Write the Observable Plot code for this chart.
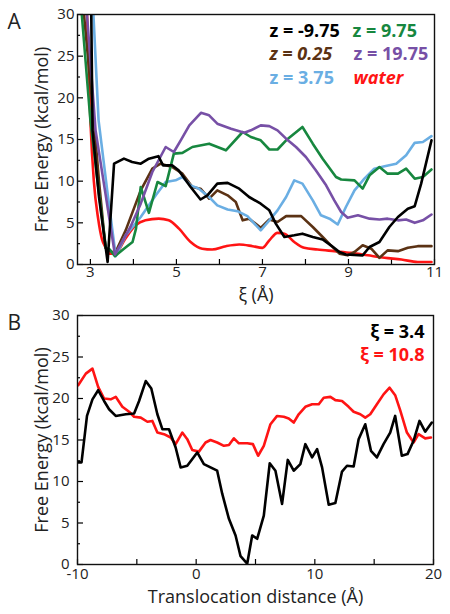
<!DOCTYPE html>
<html><head><meta charset="utf-8">
<script src="https://cdn.jsdelivr.net/npm/d3@7"></script>
<script src="https://cdn.jsdelivr.net/npm/@observablehq/plot@0.6"></script>
<style>
body{margin:0;background:#fff}
#chart{position:relative;width:450px;height:614px}
#chart svg{display:block;position:absolute;left:0}
</style>
</head><body><div id="chart"></div>
<script>
// ---------- Panel A data: free energy vs xi for several z ----------
const seriesA = ["z = -9.75", "z = 9.75", "z = 0.25", "z = 19.75", "z = 3.75", "water"];
const colorsA = ["#000000", "#17873f", "#5b3214", "#7750a6", "#6aaee3", "#ff1414"];

const xiBlack = [3.02, 3.05, 3.20, 3.40, 3.55, 3.78, 3.97, 4.17, 4.36, 4.58, 4.69, 4.90, 5.05, 5.33, 5.56, 5.72, 5.95, 6.19, 6.46, 6.69, 6.96, 7.16, 7.31, 7.51, 7.74, 7.93, 8.17, 8.40, 8.59, 8.79, 8.94, 9.33, 9.49, 9.72, 9.95, 10.15, 10.38, 10.54, 10.69, 10.93];
const feBlack = [30, 16.1, 8.1, 0.3, 12.1, 12.7, 12.3, 12.1, 12.7, 13.0, 11.9, 11.9, 11.3, 9.3, 7.8, 8.3, 9.7, 9.8, 9.1, 8.1, 7.3, 6.5, 4.9, 3.3, 3.5, 3.7, 3.3, 3.0, 2.3, 1.5, 1.2, 1.1, 2.1, 2.7, 4.5, 5.7, 6.7, 7.0, 9.7, 14.9];

const xiGreen = [2.80, 3.00, 3.20, 3.36, 3.45, 3.57, 3.78, 3.98, 4.06, 4.17, 4.36, 4.56, 4.75, 4.94, 5.14, 5.37, 5.76, 6.15, 6.54, 6.73, 6.96, 7.16, 7.35, 7.55, 7.93, 8.17, 8.40, 8.71, 8.83, 9.14, 9.33, 9.49, 9.72, 9.91, 10.15, 10.34, 10.54, 10.73, 10.93];
const feGreen = [30, 17.3, 8.5, 2.0, 1.8, 1.0, 1.9, 2.7, 4.3, 9.3, 6.2, 9.9, 9.4, 13.3, 13.4, 14.1, 14.5, 13.7, 15.9, 15.3, 14.9, 13.8, 13.8, 14.9, 16.5, 14.5, 12.7, 10.5, 10.2, 10.1, 9.1, 10.7, 11.7, 10.9, 10.9, 11.5, 10.3, 10.5, 11.4];

const xiBrown = [2.85, 3.08, 3.20, 3.35, 3.47, 3.57, 3.82, 4.17, 4.44, 4.63, 4.90, 5.14, 5.37, 5.56, 5.76, 5.95, 6.19, 6.38, 6.54, 6.69, 6.96, 7.16, 7.35, 7.55, 7.90, 8.17, 8.40, 8.59, 8.79, 8.98, 9.14, 9.33, 9.53, 9.72, 9.91, 10.15, 10.38, 10.61, 10.93];
const feBrown = [30, 17.3, 10.0, 2.0, 1.6, 1.3, 4.1, 8.9, 11.5, 12.1, 11.7, 10.9, 9.3, 9.1, 7.9, 8.9, 8.3, 7.5, 5.3, 5.5, 4.4, 5.4, 5.1, 5.8, 5.8, 4.5, 3.3, 2.3, 1.3, 1.1, 1.5, 2.3, 1.9, 0.8, 1.7, 1.6, 2.0, 2.2, 2.2];

const xiPurple = [2.92, 3.12, 3.35, 3.57, 3.93, 4.17, 4.44, 4.75, 4.94, 5.10, 5.30, 5.57, 5.76, 5.95, 6.27, 6.58, 6.73, 6.96, 7.16, 7.35, 7.55, 7.78, 8.01, 8.24, 8.48, 8.67, 8.83, 8.98, 9.22, 9.49, 9.72, 9.91, 10.15, 10.34, 10.54, 10.73, 10.93];
const fePurple = [30, 16.1, 8.5, 1.2, 4.5, 7.3, 11.1, 14.1, 13.5, 14.9, 16.7, 18.2, 17.9, 16.9, 16.3, 15.8, 16.1, 16.7, 16.6, 16.1, 15.1, 14.1, 12.9, 11.3, 9.5, 7.7, 6.3, 5.6, 5.9, 5.5, 5.4, 5.5, 5.3, 5.4, 5.0, 5.3, 6.0];

const xiBlue = [3.07, 3.19, 3.40, 3.59, 3.82, 4.17, 4.52, 4.75, 4.98, 5.14, 5.33, 5.52, 5.76, 5.95, 6.19, 6.42, 6.65, 6.96, 7.16, 7.35, 7.55, 7.74, 7.93, 8.17, 8.36, 8.56, 8.75, 8.94, 9.14, 9.37, 9.60, 9.84, 10.11, 10.34, 10.54, 10.73, 10.93];
const feBlue = [30, 17.3, 8.5, 1.0, 3.5, 5.7, 8.3, 9.9, 10.1, 10.5, 9.5, 9.1, 8.1, 7.1, 6.6, 6.4, 5.8, 4.1, 5.3, 6.5, 8.1, 10.1, 9.7, 7.7, 5.9, 5.5, 4.8, 6.9, 8.9, 10.3, 11.5, 11.8, 12.1, 13.1, 14.6, 14.7, 15.4];

const xiWater = [2.92, 3.00, 3.08, 3.18, 3.27, 3.36, 3.44, 3.58, 3.80, 4.05, 4.28, 4.59, 4.82, 5.06, 5.33, 5.60, 5.83, 6.15, 6.46, 6.77, 7.00, 7.16, 7.35, 7.51, 7.74, 7.97, 8.28, 8.67, 9.06, 9.45, 9.84, 10.23, 10.61, 10.93];
const feWater = [30, 17.3, 10, 5.5, 3.0, 2.0, 1.3, 1.3, 3.0, 4.7, 5.3, 5.5, 5.3, 4.3, 2.7, 1.9, 1.8, 2.2, 2.4, 2.2, 2.0, 2.9, 3.8, 3.7, 2.7, 2.0, 1.8, 1.6, 1.4, 1.1, 0.8, 0.6, 0.3, 0.3];

const xTicksA = [3, 4, 5, 6, 7, 8, 9, 10, 11];
const xLabelsA = [3, 5, 7, 9, 11];

// ---------- Panel B data: free energy vs translocation distance ----------
const seriesB = ["ξ = 3.4", "ξ = 10.8"];
const colorsB = ["#000000", "#ff1414"];
const dBlack = [-9.94, -9.66, -9.2, -8.74, -8.26, -7.76, -7.34, -6.78, -5.93, -5.23, -4.81, -4.25, -3.78, -3.27, -2.85, -2.29, -1.73, -1.31, -0.75, 0.09, 0.65, 1.21, 1.77, 2.20, 2.76, 3.32, 3.74, 4.30, 4.72, 5.14, 5.70, 6.20, 6.68, 7.24, 7.72, 8.22, 8.78, 9.20, 9.77, 10.19, 10.61, 11.17, 11.73, 12.29, 12.71, 13.27, 13.69, 14.25, 14.73, 15.23, 15.79, 16.35, 16.77, 17.33, 17.81, 18.32, 18.82, 19.30, 19.86];
const feBlackB = [12.3, 12.3, 17.9, 19.9, 21.0, 19.7, 18.7, 17.9, 18.1, 18.2, 19.7, 22.1, 21.2, 18.1, 16.3, 16.3, 14.1, 11.7, 11.9, 13.5, 12.1, 11.7, 11.3, 8.5, 5.5, 3.5, 1.0, 0.1, 3.5, 3.1, 5.9, 12.2, 11.3, 7.3, 12.6, 11.3, 12.1, 14.5, 12.9, 13.9, 11.7, 7.2, 7.4, 11.2, 11.9, 11.8, 15.1, 16.9, 13.7, 12.9, 14.5, 15.9, 17.9, 13.1, 13.3, 14.9, 17.3, 16.0, 17.1];
const dRed = [-9.94, -9.3, -8.74, -8.26, -7.76, -7.2, -6.78, -6.22, -5.65, -5.23, -4.67, -4.11, -3.69, -3.27, -2.71, -2.15, -1.73, -1.17, -0.75, -0.33, 0.23, 0.79, 1.21, 1.77, 2.34, 2.76, 3.18, 3.60, 4.30, 4.78, 5.22, 5.70, 6.26, 6.82, 7.38, 7.80, 8.22, 8.64, 9.20, 9.77, 10.33, 10.75, 11.31, 11.73, 12.29, 12.85, 13.27, 13.83, 14.25, 14.67, 15.23, 15.79, 16.30, 16.77, 17.19, 17.76, 18.32, 18.74, 19.30, 19.78];
const feRedB = [21.6, 23.0, 23.6, 21.4, 20.0, 19.9, 20.2, 19.0, 18.4, 17.8, 17.7, 17.2, 17.3, 15.9, 15.7, 15.3, 14.5, 15.9, 15.1, 13.8, 13.6, 14.7, 15.0, 14.7, 14.3, 14.4, 15.2, 14.6, 14.6, 14.5, 13.1, 14.3, 16.9, 17.9, 17.8, 17.6, 17.1, 18.1, 19.0, 19.3, 19.3, 20.1, 20.2, 19.8, 19.7, 19.0, 18.4, 18.1, 17.7, 18.1, 19.3, 20.5, 21.3, 20.4, 18.6, 15.9, 14.7, 15.7, 15.2, 15.3];

const xTicksB = [-10, -5, 0, 5, 10, 15, 20];
const xLabelsB = [-10, 0, 10, 20];

const yMinor = [2.5, 7.5, 12.5, 17.5, 22.5, 27.5];
const yTicks = [0, 5, 10, 15, 20, 25, 30];

const yLabel = "Free Energy (kcal/mol)";

// ---------- build tables ----------
const zip = (xs, ys) => xs.map((x, i) => ({x, y: ys[i]}));
const curvesA = [
  zip(xiBlack, feBlack), zip(xiGreen, feGreen), zip(xiBrown, feBrown),
  zip(xiPurple, fePurple), zip(xiBlue, feBlue), zip(xiWater, feWater)
];
const curvesB = [zip(dBlack, feBlackB), zip(dRed, feRedB)];

const FONT = "'Open Sans', sans-serif";
const TICKFS = 15;
const LABELFS = 18;

function axes(xTicks, xLabels, xpad, ypad) {
  return [
    Plot.axisX(xTicks, {tickSize: -5, tickFormat: () => "", label: null, strokeWidth: 1.2}),
    Plot.axisX(xLabels, {tickSize: 0, tickPadding: xpad, tickFormat: d => String(d), fontSize: TICKFS, label: null, fill: "#222"}),
    Plot.axisY(yMinor, {tickSize: -3, tickFormat: () => "", label: null, strokeWidth: 1.2}),
    Plot.axisY(yTicks, {tickSize: -6, tickFormat: () => "", label: null, strokeWidth: 1.2}),
    Plot.axisY(yTicks, {tickSize: 0, tickPadding: ypad, tickFormat: d => String(d), fontSize: TICKFS, label: null, fill: "#222"}),
    Plot.text([yLabel], {frameAnchor: "left", dx: -35, rotate: -90, text: d => d, fontSize: LABELFS, fill: "#222", textAnchor: "middle"})
  ];
}

// draw order: water first, black last
const orderA = [5, 2, 4, 1, 3, 0];
const legendPosA = [[192, 17], [275, 17], [192, 40], [276, 40], [192, 64], [276, 64]];

const plotA = Plot.plot({
  width: 450, height: 308,
  marginLeft: 77, marginRight: 16, marginTop: 14, marginBottom: 44,
  style: {fontFamily: FONT, background: "white"},
  x: {domain: [2.7, 11.0]},
  y: {domain: [0, 30]},
  marks: [
    ...axes(xTicksA, xLabelsA, 2, 3),
    ...orderA.map(i => Plot.line(curvesA[i], {
      x: "x", y: "y", stroke: colorsA[i], strokeWidth: 2.6, clip: true,
      curve: seriesA[i] === "water" ? "monotone-x" : "linear"
    })),
    Plot.frame({stroke: "#111", strokeWidth: 1.4}),
    ...seriesA.map((s, i) => Plot.text([s], {
      frameAnchor: "top-left", dx: legendPosA[i][0], dy: legendPosA[i][1],
      text: d => d, textAnchor: "start", lineAnchor: "middle",
      fill: colorsA[i], fontWeight: "bold", fontSize: 18,
      fontStyle: (s === "water" || s === "z = 0.25") ? "italic" : "normal",
      ariaLabel: "legendA"
    })),
    Plot.text(["A"], {frameAnchor: "top-left", dx: -70, dy: 8, text: d => d, textAnchor: "start", lineAnchor: "middle", fontSize: 21, fill: "#222"}),
    Plot.text(["ξ (Å)"], {frameAnchor: "bottom", dy: 31, text: d => d, fontSize: LABELFS, fill: "#222", lineAnchor: "middle", ariaLabel: "xiLabel"})
  ]
});

const plotB = Plot.plot({
  width: 450, height: 314,
  marginLeft: 77, marginRight: 17, marginTop: 15, marginBottom: 50,
  style: {fontFamily: FONT, background: "transparent"},
  x: {domain: [-10, 20]},
  y: {domain: [0, 30]},
  marks: [
    ...axes(xTicksB, xLabelsB, 4, 8),
    Plot.line(curvesB[1], {x: "x", y: "y", stroke: colorsB[1], strokeWidth: 2.6, clip: true}),
    Plot.line(curvesB[0], {x: "x", y: "y", stroke: colorsB[0], strokeWidth: 2.6, clip: true}),
    Plot.frame({stroke: "#111", strokeWidth: 1.4}),
    ...seriesB.map((s, i) => Plot.text([s], {
      frameAnchor: "top-right", dx: -9, dy: 17 + 23 * i,
      text: d => d, textAnchor: "end", lineAnchor: "middle",
      fill: colorsB[i], fontWeight: "bold", fontSize: 18, ariaLabel: "legendB"
    })),
    Plot.text(["B"], {frameAnchor: "top-left", dx: -70, dy: 8, text: d => d, textAnchor: "start", lineAnchor: "middle", fontSize: 21, fill: "#222"}),
    Plot.text(["Translocation distance (Å)"], {frameAnchor: "bottom", dy: 33, text: d => d, fontSize: LABELFS, fill: "#222", lineAnchor: "middle"})
  ]
});

// italicize the leading symbol (z or ξ) in labels
function italicLead(svg, selector, lead) {
  svg.querySelectorAll(selector).forEach(t => {
    const s = t.textContent;
    if (!s.startsWith(lead)) return;
    while (t.firstChild) t.removeChild(t.firstChild);
    const a = document.createElementNS("http://www.w3.org/2000/svg", "tspan");
    a.setAttribute("font-style", "italic");
    a.textContent = lead;
    t.appendChild(a);
    t.appendChild(document.createTextNode(s.slice(lead.length)));
  });
}
italicLead(plotA, 'g[aria-label="legendA"] text', "z");
italicLead(plotA, 'g[aria-label="xiLabel"] text', "ξ");
italicLead(plotB, 'g[aria-label="legendB"] text', "ξ");

const chart = document.getElementById("chart");
plotA.style.top = "0px";
plotB.style.top = "300px";
chart.appendChild(plotA);
chart.appendChild(plotB);
</script></body></html>
